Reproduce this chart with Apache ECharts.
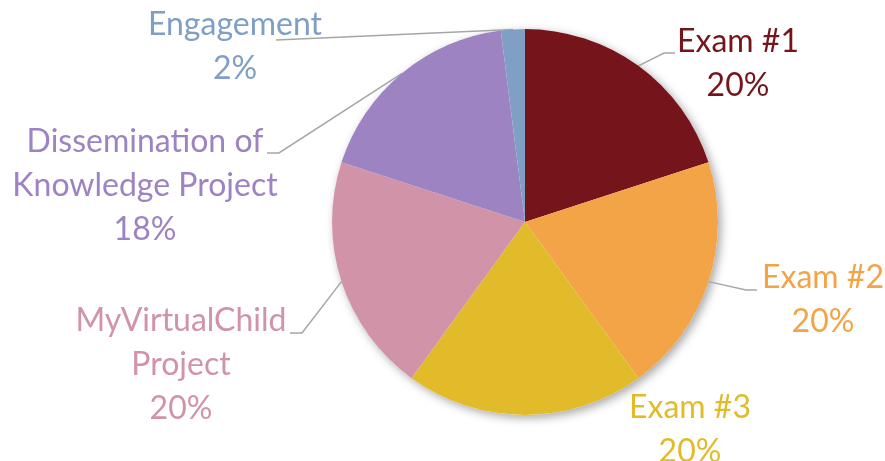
<!DOCTYPE html>
<html>
<head>
<meta charset="utf-8">
<script src="https://cdn.jsdelivr.net/npm/echarts@6/dist/echarts.min.js"></script>
<style>html,body{margin:0;padding:0;background:#fff;}#c{width:885px;height:461px;}</style>
</head>
<body>
<div id="c"></div>
<script>
var categories = ['Exam #1', 'Exam #2', 'Exam #3', 'MyVirtualChild\nProject', 'Dissemination of\nKnowledge Project', 'Engagement'];
var values = [20, 20, 20, 20, 18, 2];
var colors = ['#76141c', '#f2a447', '#e2bb2a', '#d193a8', '#9d83c1', '#7f9fc4'];

// label placement: text block centre x, top y, and label-line elbow / end
var labelPos = [
  {x: 738, y: 20, elbow: [664, 53], end: [675, 53]},
  {x: 823, y: 256, elbow: [746, 290], end: [757, 290]},
  {x: 690, y: 386, elbow: null, end: null},
  {x: 181, y: 299, elbow: [302, 333], end: [290, 333]},
  {x: 145, y: 120, elbow: [279, 153], end: [267, 153]},
  {x: 235, y: 3, elbow: [276, 40], end: [276, 40]}
];

var chart = echarts.init(document.getElementById('c'), null, {renderer: 'canvas'});
var data = categories.map(function (n, i) {
  return {
    name: n, value: values[i],
    itemStyle: {color: colors[i]},
    label: {color: colors[i]},
    labelLine: {show: labelPos[i].elbow !== null}
  };
});
chart.setOption({
  animation: false,
  series: [
    {
      type: 'pie', silent: true, z: 1,
      center: [525, 222], radius: 193,
      data: [{value: 1, itemStyle: {color: '#fff', shadowBlur: 10, shadowColor: 'rgba(0,0,0,0.35)', shadowOffsetX: 3, shadowOffsetY: 3}}],
      label: {show: false}, labelLine: {show: false}
    },
    {
      type: 'pie', z: 2,
      center: [525, 222], radius: 193,
      startAngle: 90, clockwise: true,
      data: data,
      itemStyle: {borderWidth: 0},
      label: {
        show: true, position: 'outside',
        formatter: '{b}\n{d}%',
        fontFamily: 'Lato', fontSize: 32, lineHeight: 44,
        align: 'center'
      },
      labelLine: {show: true, length: 20, length2: 10, lineStyle: {color: '#a6a6a6', width: 1.5}},
      labelLayout: function (p) {
        var lp = labelPos[p.dataIndex];
        var res = {x: lp.x, y: lp.y, align: 'center', verticalAlign: 'top'};
        if (lp.elbow && p.labelLinePoints) {
          res.labelLinePoints = [p.labelLinePoints[0], lp.elbow, lp.end];
        }
        return res;
      }
    }
  ]
});
</script>
</body>
</html>
